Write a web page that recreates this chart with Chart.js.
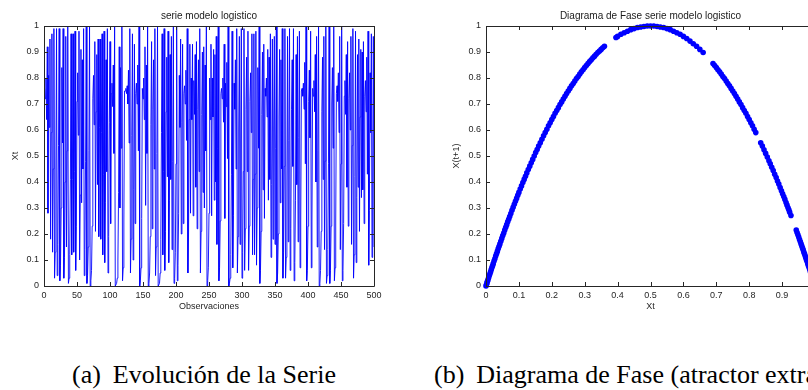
<!DOCTYPE html>
<html>
<head>
<meta charset="utf-8">
<title>Modelo logistico</title>
<script src="https://cdn.jsdelivr.net/npm/chart.js@4.4.1/dist/chart.umd.min.js"></script>
<style>
  body { margin: 0; width: 808px; height: 390px; overflow: hidden; position: relative; background: #fff; }
  .panel { position: absolute; top: 0; height: 320px; }
  .caption {
    position: absolute; top: 362px;
    font-family: 'Liberation Serif', 'Times New Roman', serif;
    font-size: 26px; line-height: 26px; color: #000; white-space: nowrap;
  }
  .caption .tag { margin-right: 12px; }
</style>
</head>
<body>
<div class="panel" style="left:0;width:404px"><canvas id="serieChart"></canvas></div>
<div class="panel" style="left:440px;width:420px"><canvas id="faseChart"></canvas></div>
<div class="caption" style="left:72px"><span class="tag">(a)</span>Evolución de la Serie</div>
<div class="caption" style="left:434px"><span class="tag">(b)</span>Diagrama de Fase (atractor extraño)</div>

<script>
// serie del modelo logistico (observaciones 1..500)
const serie = [
  0.76,0.72,0.80,0.64,0.92,0.28,0.81,0.61,0.95,0.18,0.59,0.97,0.13,0.45,0.99,0.03,0.13,0.45,0.99,0.04,
  0.16,0.54,0.99,0.02,0.08,0.30,0.84,0.55,0.99,0.03,0.11,0.40,0.96,0.15,0.52,1.00,0.01,0.03,0.12,0.41,
  0.97,0.12,0.41,0.97,0.13,0.44,0.98,0.06,0.23,0.71,0.82,0.58,0.98,0.10,0.35,0.91,0.32,0.87,0.45,0.99,
  0.04,0.14,0.48,1.00,0.01,0.04,0.15,0.52,1.00,0.00,0.02,0.06,0.23,0.72,0.81,0.62,0.94,0.21,0.67,0.89,
  0.39,0.95,0.19,0.61,0.95,0.18,0.59,0.97,0.12,0.43,0.98,0.09,0.32,0.87,0.44,0.99,0.05,0.19,0.63,0.94,
  0.24,0.74,0.78,0.69,0.85,0.51,1.00,0.00,0.00,0.01,0.03,0.10,0.36,0.92,0.30,0.84,0.53,1.00,0.02,0.07,
  0.25,0.75,0.75,0.76,0.74,0.77,0.70,0.83,0.55,0.99,0.05,0.18,0.58,0.97,0.10,0.37,0.93,0.24,0.74,0.78,
  0.70,0.85,0.52,1.00,0.00,0.02,0.07,0.26,0.76,0.72,0.80,0.64,0.92,0.31,0.85,0.51,1.00,0.00,0.01,0.05,
  0.19,0.62,0.94,0.22,0.68,0.87,0.45,0.99,0.04,0.15,0.51,1.00,0.00,0.00,0.01,0.05,0.18,0.59,0.97,0.12,
  0.44,0.99,0.06,0.21,0.67,0.88,0.42,0.98,0.09,0.33,0.89,0.41,0.96,0.14,0.48,1.00,0.01,0.03,0.13,0.47,
  1.00,0.02,0.08,0.28,0.81,0.61,0.95,0.20,0.63,0.93,0.24,0.74,0.77,0.70,0.83,0.56,0.99,0.05,0.20,0.64,
  0.93,0.28,0.80,0.64,0.93,0.27,0.79,0.66,0.89,0.38,0.94,0.22,0.68,0.87,0.44,0.99,0.05,0.21,0.66,0.90,
  0.36,0.92,0.30,0.85,0.52,1.00,0.00,0.02,0.07,0.28,0.80,0.64,0.93,0.27,0.80,0.65,0.91,0.33,0.89,0.40,
  0.96,0.16,0.53,1.00,0.02,0.07,0.25,0.74,0.76,0.72,0.80,0.63,0.93,0.26,0.78,0.69,0.86,0.49,1.00,0.00,
  0.01,0.03,0.12,0.43,0.98,0.07,0.27,0.78,0.68,0.87,0.45,0.99,0.05,0.19,0.60,0.96,0.16,0.55,0.99,0.03,
  0.13,0.44,0.99,0.06,0.22,0.68,0.88,0.44,0.98,0.06,0.23,0.71,0.82,0.59,0.97,0.12,0.41,0.97,0.12,0.43,
  0.98,0.08,0.30,0.84,0.53,1.00,0.01,0.06,0.21,0.66,0.90,0.37,0.93,0.26,0.76,0.73,0.80,0.65,0.91,0.33,
  0.88,0.41,0.97,0.11,0.39,0.95,0.18,0.60,0.96,0.16,0.53,1.00,0.01,0.05,0.20,0.65,0.91,0.32,0.87,0.45,
  0.99,0.03,0.13,0.46,0.99,0.03,0.11,0.40,0.96,0.17,0.56,0.99,0.06,0.22,0.68,0.87,0.46,0.99,0.02,0.09,
  0.33,0.89,0.39,0.96,0.17,0.57,0.98,0.07,0.25,0.75,0.76,0.73,0.78,0.68,0.86,0.47,1.00,0.02,0.06,0.23,
  0.71,0.83,0.57,0.98,0.07,0.25,0.76,0.73,0.79,0.67,0.89,0.40,0.96,0.15,0.52,1.00,0.00,0.01,0.06,0.21,
  0.67,0.88,0.41,0.96,0.14,0.48,1.00,0.01,0.04,0.14,0.47,1.00,0.01,0.06,0.23,0.70,0.84,0.53,1.00,0.02,
  0.07,0.25,0.74,0.77,0.71,0.82,0.59,0.96,0.14,0.47,1.00,0.02,0.06,0.24,0.73,0.79,0.66,0.89,0.38,0.94,
  0.23,0.72,0.82,0.60,0.96,0.16,0.54,0.99,0.03,0.12,0.42,0.98,0.09,0.34,0.89,0.38,0.95,0.21,0.65,0.91,
  0.34,0.90,0.37,0.94,0.24,0.73,0.79,0.67,0.88,0.43,0.98,0.08,0.29,0.82,0.59,0.97,0.11,0.40,0.96,0.15
];

// diagrama de fase: Xt contra X(t+1)
const faseXt = [
  0,0.003,0.006,0.01,0.014,0.018,0.022,0.027,0.032,0.037,0.042,0.048,0.054,0.06,0.066,0.072,0.079,0.086,0.093,0.1,
  0.108,0.116,0.124,0.133,0.142,0.151,0.16,0.17,0.18,0.19,0.2,0.21,0.22,0.23,0.24,0.25,0.26,0.27,0.28,0.29,
  0.3,0.31,0.32,0.33,0.34,0.35,0.36,0.395,0.41,0.42,0.43,0.44,0.45,0.46,0.47,0.48,0.49,0.5,0.51,0.52,
  0.53,0.54,0.55,0.56,0.57,0.58,0.59,0.6,0.61,0.62,0.63,0.64,0.65,0.66,0.69,0.7,0.71,0.72,0.73,0.74,
  0.75,0.76,0.77,0.78,0.79,0.8,0.81,0.82,0.835,0.845,0.855,0.864,0.873,0.882,0.89,0.898,0.905,0.912,0.918,0.923,
  0.927,0.943,0.948,0.953,0.958,0.962,0.966,0.97,0.974,0.978,0.982,0.986,0.99,0.994,0.997,1,
  0.0015,0.0045,0.008,0.012,0.016,0.020,0.0245,0.0295,0.0345,0.0395,
  0.045,0.051,0.057,0.063,0.069,0.0755,0.0825,0.0895,0.0965,0.104,
  0.112,0.120,0.1285,0.1375,0.1465,0.1555,0.165,0.175,0.185,0.195,
  0.205,0.215,0.225,0.235,0.245,0.255,0.265,0.275,0.285,0.295,
  0.305,0.315,0.325,0.335,0.345,0.355,0.40,0.695,0.705,0.715,
  0.725,0.735,0.745,0.755,0.765,0.775,0.785,0.795,0.805,0.815,
  0.84,0.85,0.86,0.8685,0.8775,0.886,0.894,0.9015,0.9085,0.915,
  0.9205,0.9455,0.9505,0.9555,0.960,0.964,0.968,0.972,0.976,0.980,
  0.984,0.988,0.992,0.9955,0.9985
];
const faseXt1 = [
  0,0.012,0.024,0.040,0.055,0.071,0.086,0.105,0.124,0.143,0.161,0.183,0.204,0.226,0.247,0.267,0.291,0.314,0.337,0.36,
  0.385,0.410,0.435,0.461,0.487,0.513,0.538,0.564,0.590,0.616,0.64,0.664,0.686,0.708,0.730,0.75,0.770,0.788,0.806,0.824,
  0.84,0.856,0.870,0.884,0.898,0.91,0.922,0.956,0.968,0.974,0.980,0.986,0.99,0.994,0.996,0.998,1.0,1.0,1.0,0.998,
  0.996,0.994,0.99,0.986,0.980,0.974,0.968,0.96,0.952,0.942,0.932,0.922,0.91,0.898,0.856,0.84,0.824,0.806,0.788,0.770,
  0.75,0.730,0.708,0.686,0.664,0.64,0.616,0.590,0.551,0.524,0.496,0.470,0.444,0.417,0.392,0.366,0.344,0.321,0.301,0.284,
  0.271,0.215,0.197,0.179,0.161,0.146,0.131,0.116,0.101,0.086,0.071,0.055,0.040,0.024,0.012,0,
  0.006,0.018,0.032,0.047,0.063,0.078,0.096,0.115,0.133,0.152,
  0.172,0.194,0.215,0.236,0.257,0.279,0.303,0.326,0.349,0.373,
  0.398,0.422,0.448,0.474,0.500,0.525,0.551,0.578,0.603,0.628,
  0.652,0.675,0.698,0.719,0.740,0.760,0.779,0.798,0.815,0.832,
  0.848,0.863,0.878,0.891,0.904,0.916,0.96,0.848,0.832,0.815,
  0.798,0.779,0.760,0.740,0.719,0.698,0.675,0.652,0.628,0.603,
  0.538,0.51,0.482,0.457,0.430,0.404,0.379,0.355,0.333,0.311,
  0.293,0.206,0.188,0.170,0.154,0.139,0.124,0.109,0.094,0.078,
  0.063,0.047,0.032,0.018,0.006
];

// marcas de los ejes
const obsTicks = [0, 50, 100, 150, 200, 250, 300, 350, 400, 450, 500];
const unitTicks = [0, 0.1, 0.2, 0.3, 0.4, 0.5, 0.6, 0.7, 0.8, 0.9, 1];

const BLUE = 'rgb(0,0,255)';
const INK = '#262626';

Chart.defaults.font.family = "'Liberation Sans', Arial, Helvetica, sans-serif";
Chart.defaults.font.size = 9;
Chart.defaults.color = INK;

// caja cerrada con marcas hacia adentro, estilo matlab
const boxTicks = {
  id: 'boxTicks',
  afterDraw(chart) {
    const { ctx, chartArea: a, scales: { x, y } } = chart;
    const len = 4;
    ctx.save();
    ctx.strokeStyle = INK;
    ctx.lineWidth = 1;
    ctx.beginPath();
    ctx.rect(a.left + 0.5, a.top + 0.5, a.right - a.left, a.bottom - a.top);
    x.ticks.forEach(t => {
      const px = Math.round(x.getPixelForValue(t.value)) + 0.5;
      ctx.moveTo(px, a.bottom); ctx.lineTo(px, a.bottom - len);
      ctx.moveTo(px, a.top); ctx.lineTo(px, a.top + len);
    });
    y.ticks.forEach(t => {
      const py = Math.round(y.getPixelForValue(t.value)) + 0.5;
      ctx.moveTo(a.left, py); ctx.lineTo(a.left + len, py);
      ctx.moveTo(a.right, py); ctx.lineTo(a.right - len, py);
    });
    ctx.stroke();
    ctx.restore();
  }
};

function axis(min, max, ticks, title, titlePad, size, horizontal) {
  return {
    type: 'linear',
    min: min,
    max: max,
    grid: { display: false, drawTicks: false },
    border: { display: false },
    afterBuildTicks: s => { s.ticks = ticks.map(v => ({ value: v })); },
    afterFit: s => { if (horizontal) s.height = size; else s.width = size; },
    ticks: {
      padding: horizontal ? 4 : 5,
      maxRotation: 0,
      autoSkip: false,
      callback: v => String(v)
    },
    title: { display: true, text: title, padding: titlePad }
  };
}

function titleOpts(text) {
  return {
    display: true,
    text: text,
    fullSize: false,
    color: '#1a1a1a',
    font: { size: 10, weight: 'normal' },
    padding: { top: 10, bottom: 4 }
  };
}

new Chart(document.getElementById('serieChart'), {
  type: 'line',
  data: {
    datasets: [{
      data: serie.map((v, i) => ({ x: i + 1, y: v })),
      borderColor: BLUE,
      borderWidth: 0.9,
      pointRadius: 0,
      tension: 0,
      fill: false
    }]
  },
  options: {
    responsive: true,
    maintainAspectRatio: false,
    animation: false,
    layout: { padding: { top: 0, right: 30, bottom: 0, left: 0 } },
    plugins: {
      legend: { display: false },
      tooltip: { enabled: false },
      title: titleOpts('serie modelo logistico')
    },
    scales: {
      x: axis(0, 500, obsTicks, 'Observaciones', { top: 0, bottom: 7.6 }, 34, true),
      y: axis(0, 1, unitTicks, 'Xt', { top: 10.6, bottom: 0 }, 44, false)
    }
  },
  plugins: [boxTicks]
});

new Chart(document.getElementById('faseChart'), {
  type: 'scatter',
  data: {
    datasets: [{
      data: faseXt.map((v, i) => ({ x: v, y: faseXt1[i] })),
      backgroundColor: BLUE,
      borderWidth: 0,
      pointRadius: 2.8,
      clip: false
    }]
  },
  options: {
    responsive: true,
    maintainAspectRatio: false,
    animation: false,
    layout: { padding: { top: 0, right: 45, bottom: 0, left: 0 } },
    plugins: {
      legend: { display: false },
      tooltip: { enabled: false },
      title: titleOpts('Diagrama de Fase serie modelo logistico')
    },
    scales: {
      x: axis(0, 1, unitTicks, 'Xt', { top: 0, bottom: 7.6 }, 34, true),
      y: axis(0, 1, unitTicks, 'X(t+1)', { top: 11.6, bottom: 0 }, 46, false)
    }
  },
  plugins: [boxTicks]
});
</script>
</body>
</html>
